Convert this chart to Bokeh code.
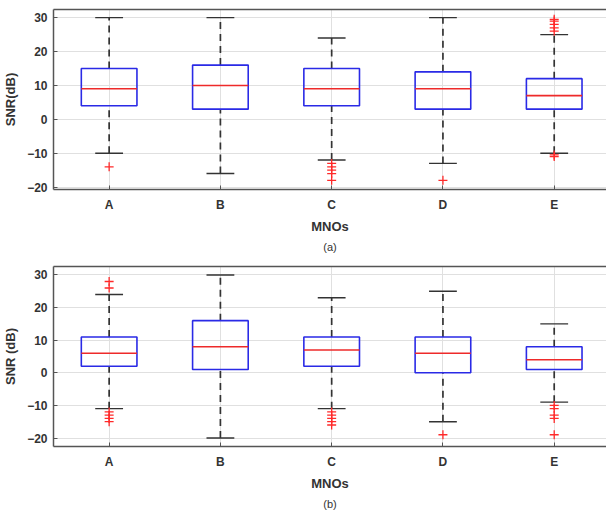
from bokeh.plotting import figure
from bokeh.layouts import column
from bokeh.models import Range1d, FixedTicker, LinearAxis, Title, ColumnDataSource
from bokeh.embed import file_html
from bokeh.resources import INLINE

categories = ["A", "B", "C", "D", "E"]

# Panel (a)
a_lo = [-10, -16, -12, -13, -10]
a_q1 = [4, 3, 4, 3, 3]
a_med = [9, 10, 9, 9, 7]
a_q3 = [15, 16, 15, 14, 12]
a_hi = [30, 30, 24, 30, 25]
a_out_cat = ["A", "C", "C", "C", "C", "C", "D", "E", "E", "E", "E", "E", "E", "E"]
a_out_val = [-14, -13, -14, -15, -16, -18, -18, -10.5, -11, 26, 27, 28, 29, 29.5]

# Panel (b)
b_lo = [-11, -20, -11, -15, -9]
b_q1 = [2, 1, 2, 0, 1]
b_med = [6, 8, 7, 6, 4]
b_q3 = [11, 16, 11, 11, 8]
b_hi = [24, 30, 23, 25, 15]
b_out_cat = ["A", "A", "A", "A", "A", "A", "C", "C", "C", "C", "C",
             "D", "E", "E", "E", "E", "E"]
b_out_val = [26, 28, -12, -13, -14, -15, -12, -13, -14, -15, -16,
             -19, -10, -11, -13, -14, -19]

y_ticks = [-20, -10, 0, 10, 20, 30]
FONT = "Liberation Sans"


def make_panel(lo, q1, med, q3, hi, out_cat, out_val, ylabel, caption,
               height, top, bottom, yr):
    x = [i + 1 for i in range(len(categories))]
    p = figure(width=606, height=height, output_backend="svg", toolbar_location=None,
               x_range=Range1d(0.5, 5.47), y_range=Range1d(*yr),
               min_border_left=53, min_border_right=0, min_border_top=top,
               min_border_bottom=bottom)
    p.outline_line_color = None
    src = ColumnDataSource(dict(x=x, lo=lo, q1=q1, med=med, q3=q3, hi=hi,
                                xl=[v - 0.25 for v in x], xr=[v + 0.25 for v in x],
                                cl=[v - 0.125 for v in x], cr=[v + 0.125 for v in x]))
    # whiskers
    p.segment("x", "q3", "x", "hi", source=src, line_color="#333333",
              line_dash="7 5", line_width=1.7)
    p.segment("x", "lo", "x", "q1", source=src, line_color="#333333",
              line_dash="7 5", line_width=1.7)
    # caps
    p.segment("cl", "hi", "cr", "hi", source=src, line_color="#333333", line_width=1.4)
    p.segment("cl", "lo", "cr", "lo", source=src, line_color="#333333", line_width=1.4)
    # boxes
    p.quad(left="xl", right="xr", bottom="q1", top="q3", source=src,
           fill_color=None, line_color="#2a2ae6", line_width=1.6)
    # medians
    p.segment("xl", "med", "xr", "med", source=src, line_color="#ee2a2a", line_width=1.6)
    # outliers
    ox = [categories.index(c) + 1 for c in out_cat]
    p.scatter(ox, out_val, marker="cross", size=9, line_color="#ff2a2a", line_width=1.3)

    for ax in (p.xaxis[0], p.yaxis[0]):
        ax.major_tick_in = 4
        ax.major_tick_out = 0
        ax.minor_tick_line_color = None
        ax.axis_line_color = "#555555"
        ax.axis_line_width = 1.5
        ax.major_tick_line_color = "#555555"
        ax.major_label_text_font = FONT
        ax.major_label_text_font_style = "bold"
        ax.major_label_text_font_size = "12px"
        ax.major_label_text_color = "#333333"
        ax.axis_label_text_font = FONT
        ax.axis_label_text_font_style = "bold"
        ax.axis_label_text_font_size = "13px"
        ax.axis_label_text_color = "#333333"
    p.xaxis.ticker = FixedTicker(ticks=x)
    p.xaxis.major_label_overrides = {i + 1: c for i, c in enumerate(categories)}
    p.xaxis.axis_label = "MNOs"
    p.xaxis.major_label_standoff = 8
    p.xaxis.axis_label_standoff = 4
    p.yaxis.ticker = FixedTicker(ticks=y_ticks)
    p.yaxis.axis_label = ylabel
    p.yaxis.major_label_standoff = 6
    p.yaxis.axis_label_standoff = 6

    top_ax = LinearAxis(ticker=FixedTicker(ticks=[]), major_tick_line_color=None,
                        minor_tick_line_color=None, axis_line_color="#555555",
                        axis_line_width=1.5)
    p.add_layout(top_ax, "above")

    p.grid.grid_line_color = "#e0e0e0"
    p.xgrid.ticker = FixedTicker(ticks=x)
    p.ygrid.ticker = FixedTicker(ticks=y_ticks)

    t = Title(text=caption, text_font=FONT, text_font_size="11px",
              text_font_style="normal", align="center", text_color="#333333",
              standoff=5)
    p.add_layout(t, "below")
    return p


pa = make_panel(a_lo, a_q1, a_med, a_q3, a_hi, a_out_cat, a_out_val, "SNR(dB)", "(a)",
                255, 9, 66, (-20.7, 32.4))
pb = make_panel(b_lo, b_q1, b_med, b_q3, b_hi, b_out_cat, b_out_val, "SNR (dB)", "(b)",
                260, 11, 69, (-22.6, 32.6))

layout = column(pa, pb, spacing=0)
open("out.html", "w").write(file_html(layout, INLINE))
